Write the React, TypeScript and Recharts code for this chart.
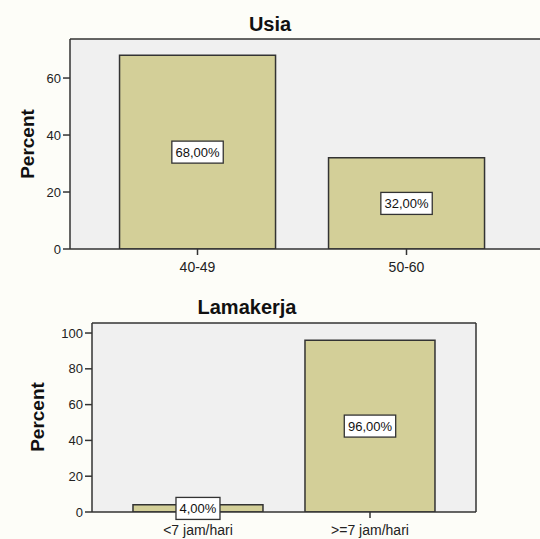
import React from 'react';
import { BarChart, Bar, XAxis, YAxis, CartesianGrid, LabelList } from 'recharts';

const usiaCategories = ['40-49', '50-60'];
const usiaPercent = [68, 32];
const usiaTicks = [0, 20, 40, 60];
const usiaMax = 73.7;

const lamaCategories = ['<7 jam/hari', '>=7 jam/hari'];
const lamaPercent = [4, 96];
const lamaTicks = [0, 20, 40, 60, 80, 100];
const lamaMax = 105.6;

const FONT = '"Liberation Sans", Arial, sans-serif';
const INK = '#333333';
const BAR_FILL = '#d3cf98';
const PLOT_BG = '#f0f0f0';

const usiaData = usiaCategories.map((c, i) => ({ category: c, percent: usiaPercent[i] }));
const lamaData = lamaCategories.map((c, i) => ({ category: c, percent: lamaPercent[i] }));

function fmt(v: number) {
  return v.toFixed(2).replace('.', ',') + '%';
}

// frame lines: top edge and right edge of the plot area
const topEdge = ({ offset }: any) => [offset.top];
const rightEdge = ({ offset }: any) => [offset.left + offset.width];

function BoxLabel(props: any) {
  const { x, y, width, height, value } = props;
  const text = fmt(Number(value));
  const w = text.length * 7.4 + 7;
  const h = 22;
  const cx = x + width / 2;
  const cy = y + height / 2;
  return (
    <g>
      <rect x={cx - w / 2} y={cy - h / 2} width={w} height={h} fill="#ffffff" stroke={INK} strokeWidth={1.3} />
      <text x={cx} y={cy} textAnchor="middle" dominantBaseline="central" fontSize={13} fontFamily={FONT} fill="#111">
        {text}
      </text>
    </g>
  );
}

function Title({ text, x, y }: { text: string; x: number; y: number }) {
  return (
    <div
      style={{
        position: 'absolute',
        left: x,
        top: y,
        transform: 'translate(-50%, -50%)',
        fontFamily: FONT,
        fontWeight: 'bold',
        fontSize: 20,
        color: '#111',
        whiteSpace: 'nowrap',
      }}
    >
      {text}
    </div>
  );
}

function YTitle({ x, y }: { x: number; y: number }) {
  return (
    <div
      style={{
        position: 'absolute',
        left: x,
        top: y,
        transform: 'translate(-50%, -50%) rotate(-90deg)',
        fontFamily: FONT,
        fontWeight: 'bold',
        fontSize: 19,
        color: '#111',
        whiteSpace: 'nowrap',
      }}
    >
      Percent
    </div>
  );
}

const tickStyle = { fontSize: 13, fontFamily: FONT, fill: '#222' };
const line = { stroke: INK, strokeWidth: 1.5 };

export default function App() {
  return (
    <div
      style={{
        position: 'absolute',
        left: 0,
        top: 0,
        width: 540,
        height: 539,
        overflow: 'hidden',
        background: '#fdfdf8',
      }}
    >
      <div style={{ position: 'absolute', left: 0, top: 0 }}>
        <BarChart width={600} height={280} data={usiaData} margin={{ top: 39, right: 40, bottom: 0, left: 0 }} barCategoryGap="12.7%">
          <CartesianGrid
            fill={PLOT_BG}
            stroke={INK}
            strokeWidth={1.5}
            horizontalCoordinatesGenerator={topEdge}
            verticalCoordinatesGenerator={rightEdge}
          />
          <XAxis
            dataKey="category"
            height={31}
            padding={{ left: 23, right: 49 }}
            stroke={INK}
            axisLine={line}
            tickLine={line}
            tickSize={6}
            tickMargin={7}
            tick={{ ...tickStyle, fontSize: 14 }}
          />
          <YAxis
            width={70}
            domain={[0, usiaMax]}
            ticks={usiaTicks}
            allowDataOverflow
            stroke={INK}
            axisLine={line}
            tickLine={line}
            tickSize={7}
            tick={tickStyle}
          />
          <Bar dataKey="percent" fill={BAR_FILL} stroke={INK} strokeWidth={1.5} isAnimationActive={false}>
            <LabelList dataKey="percent" content={BoxLabel} />
          </Bar>
        </BarChart>
      </div>

      <div style={{ position: 'absolute', left: 0, top: 280 }}>
        <BarChart width={540} height={259} data={lamaData} margin={{ top: 43, right: 64, bottom: 0, left: 0 }} barCategoryGap="12.2%">
          <CartesianGrid
            fill={PLOT_BG}
            stroke={INK}
            strokeWidth={1.5}
            horizontalCoordinatesGenerator={topEdge}
            verticalCoordinatesGenerator={rightEdge}
          />
          <XAxis
            dataKey="category"
            height={27}
            padding={{ left: 20, right: 20 }}
            stroke={INK}
            axisLine={line}
            tickLine={line}
            tickSize={6}
            tickMargin={7}
            tick={{ ...tickStyle, fontSize: 14 }}
          />
          <YAxis
            width={92}
            domain={[0, lamaMax]}
            ticks={lamaTicks}
            allowDataOverflow
            stroke={INK}
            axisLine={line}
            tickLine={line}
            tickSize={7}
            tick={tickStyle}
          />
          <Bar dataKey="percent" fill={BAR_FILL} stroke={INK} strokeWidth={1.5} isAnimationActive={false}>
            <LabelList dataKey="percent" content={BoxLabel} />
          </Bar>
        </BarChart>
      </div>

      <Title text="Usia" x={270} y={24} />
      <Title text="Lamakerja" x={247} y={307} />
      <YTitle x={28} y={144} />
      <YTitle x={38} y={417} />
    </div>
  );
}
